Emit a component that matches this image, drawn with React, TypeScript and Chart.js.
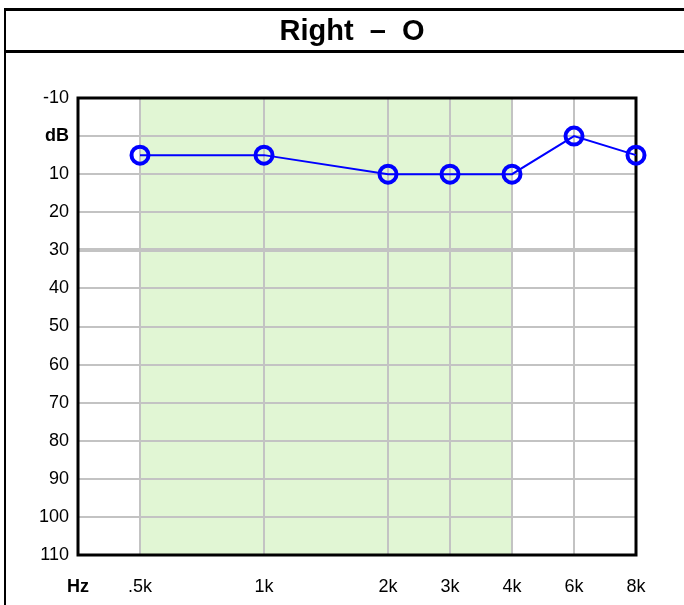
import React, { useEffect, useRef } from "react";
import { Chart, registerables } from "chart.js";

Chart.register(...registerables);

const titleText = "Right  –  O";
const freqLabels = ["Hz", ".5k", "1k", "2k", "3k", "4k", "6k", "8k"];
const freqPositions = [0, 1, 3, 5, 6, 7, 8, 9];
const pointPositions = [1, 3, 5, 6, 7, 8, 9];
const thresholds = [5, 5, 10, 10, 10, 0, 5];
const shadeFrom = 1;
const shadeTo = 7;
const dbMin = -10;
const dbMax = 110;

const FONT = '"Liberation Sans", Arial, Helvetica, sans-serif';

const framePlugin = {
  id: "frame",
  beforeDraw(chart: any) {
    const { ctx, chartArea, scales } = chart;
    ctx.save();
    ctx.fillStyle = "#ffffff";
    ctx.fillRect(0, 0, chart.width, chart.height);
    const x0 = scales.x.getPixelForValue(shadeFrom);
    const x1 = scales.x.getPixelForValue(shadeTo);
    ctx.fillStyle = "#e1f6d4";
    ctx.fillRect(x0, chartArea.top, x1 - x0, chartArea.bottom - chartArea.top);
    ctx.restore();
  },
  beforeDatasetsDraw(chart: any) {
    const { ctx, chartArea } = chart;
    ctx.save();
    ctx.strokeStyle = "#000000";
    ctx.lineWidth = 3;
    ctx.strokeRect(chartArea.left, chartArea.top, chartArea.right - chartArea.left, chartArea.bottom - chartArea.top);
    ctx.restore();
  },
  afterDraw(chart: any) {
    const { ctx } = chart;
    ctx.save();
    ctx.strokeStyle = "#000000";
    ctx.lineWidth = 3;
    ctx.beginPath();
    ctx.moveTo(5, 9.5);
    ctx.lineTo(chart.width + 5, 9.5);
    ctx.moveTo(5, 51.5);
    ctx.lineTo(chart.width + 5, 51.5);
    ctx.stroke();
    ctx.lineWidth = 2;
    ctx.beginPath();
    ctx.moveTo(5, 8);
    ctx.lineTo(5, chart.height + 5);
    ctx.stroke();
    ctx.fillStyle = "#000000";
    ctx.font = "bold 29px " + FONT;
    ctx.textAlign = "center";
    ctx.textBaseline = "alphabetic";
    ctx.fillText(titleText, 352, 40);
    ctx.restore();
  },
};

export default function App() {
  const ref = useRef<HTMLCanvasElement | null>(null);
  useEffect(() => {
    if (!ref.current) return;
    const chart = new Chart(ref.current, {
      type: "line",
      data: {
        datasets: [
          {
            data: pointPositions.map((x, i) => ({ x, y: thresholds[i] })),
            borderColor: "#0000ff",
            borderWidth: 2,
            pointRadius: 8.5,
            pointBorderWidth: 4,
            pointBorderColor: "#0000ff",
            pointBackgroundColor: "rgba(0,0,0,0)",
            pointHoverRadius: 8.5,
            fill: false,
            clip: false as any,
          },
        ],
      },
      options: {
        responsive: false,
        animation: false,
        devicePixelRatio: 1,
        layout: { padding: { top: 98, right: 48, bottom: 0, left: 0 } },
        plugins: { legend: { display: false }, tooltip: { enabled: false }, title: { display: false } },
        scales: {
          x: {
            type: "linear",
            min: 0,
            max: 9,
            afterBuildTicks: (scale: any) => {
              scale.ticks = freqPositions.map((v) => ({ value: v }));
            },
            afterFit: (scale: any) => {
              scale.height = 50;
            },
            ticks: {
              autoSkip: false,
              maxRotation: 0,
              padding: 21,
              color: "#000000",
              font: (c: any) => ({ family: FONT, size: 18, weight: c.tick && c.tick.value === 0 ? "bold" : "normal" }),
              callback: (v: any) => {
                const i = freqPositions.indexOf(Number(v));
                return i >= 0 ? freqLabels[i] : "";
              },
            },
            grid: {
              drawTicks: false,
              color: (c: any) => (c.tick && c.tick.value === 0 ? "rgba(0,0,0,0)" : "#c3c3c3"),
              lineWidth: 2,
            },
            border: { display: false },
          },
          y: {
            type: "linear",
            reverse: true,
            min: dbMin,
            max: dbMax,
            afterFit: (scale: any) => {
              scale.width = 78;
            },
            ticks: {
              stepSize: 10,
              padding: 9,
              color: "#000000",
              font: (c: any) => ({ family: FONT, size: 18, weight: c.tick && c.tick.value === 0 ? "bold" : "normal" }),
              callback: (v: any) => (Number(v) === 0 ? "dB" : String(v)),
            },
            grid: {
              drawTicks: false,
              color: "#c3c3c3",
              lineWidth: (c: any) => (c.tick && c.tick.value === 30 ? 4 : 2),
            },
            border: { display: false },
          },
        },
      },
      plugins: [framePlugin],
    } as any);
    return () => chart.destroy();
  }, []);
  return (
    <div style={{ position: "absolute", left: 0, top: 0, width: 684, height: 605 }}>
      <canvas ref={ref} width={684} height={605} style={{ width: 684, height: 605, display: "block" }} />
    </div>
  );
}
